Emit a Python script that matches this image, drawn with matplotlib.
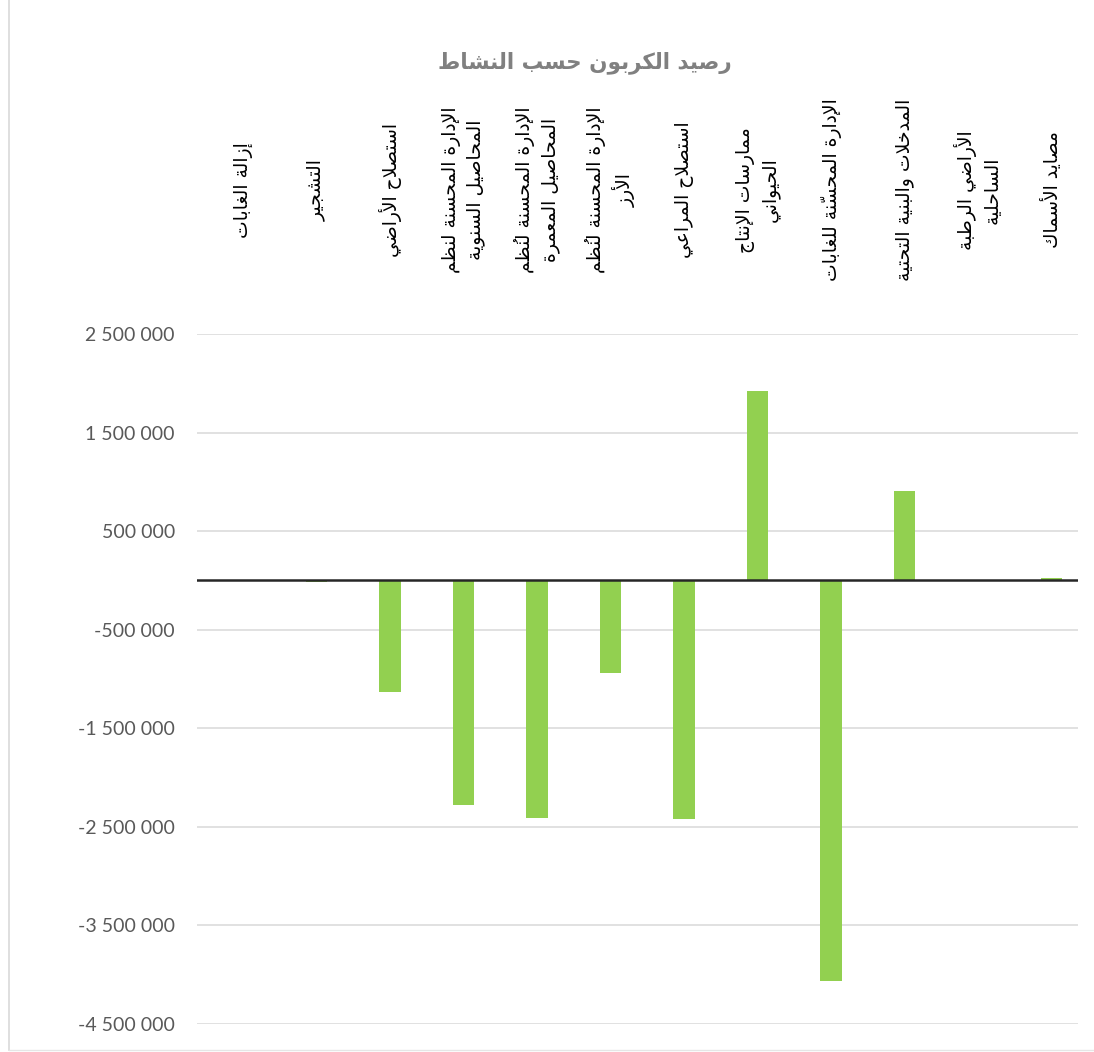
import matplotlib
matplotlib.use('Agg')
import matplotlib.pyplot as plt
import matplotlib.transforms as mtransforms
from matplotlib.lines import Line2D

# data
categories = [
    'إزالة الغابات',
    'التشجير',
    'استصلاح الأراضي',
    'الإدارة المحسنة لنظم\nالمحاصيل السنوية',
    'الإدارة المحسنة لنُظم\nالمحاصيل المعمرة',
    'الإدارة المحسنة لنُظم\nالأرز',
    'استصلاح المراعي',
    'ممارسات الإنتاج\nالحيواني',
    'الإدارة المحسّنة للغابات',
    'المدخلات والبنية التحتية',
    'الأراضي الرطبة\nالساحلية',
    'مصايد الأسماك',
]
carbon_balance = [0, -15000, -1130000, -2280000, -2410000, -940000,
                  -2420000, 1925000, -4060000, 910000, 0, 20000]
yticks = [2500000, 1500000, 500000, -500000, -1500000, -2500000, -3500000, -4500000]
title = 'رصيد الكربون حسب النشاط'

# matplotlib has no arabic shaping, so do it by hand with presentation forms
# (isolated, final, initial, medial)
FORMS = {
    '\u0621': (0xFE80,),
    '\u0622': (0xFE81, 0xFE82), '\u0623': (0xFE83, 0xFE84),
    '\u0624': (0xFE85, 0xFE86), '\u0625': (0xFE87, 0xFE88),
    '\u0626': (0xFE89, 0xFE8A, 0xFE8B, 0xFE8C),
    '\u0627': (0xFE8D, 0xFE8E),
    '\u0628': (0xFE8F, 0xFE90, 0xFE91, 0xFE92),
    '\u0629': (0xFE93, 0xFE94),
    '\u062A': (0xFE95, 0xFE96, 0xFE97, 0xFE98),
    '\u062B': (0xFE99, 0xFE9A, 0xFE9B, 0xFE9C),
    '\u062C': (0xFE9D, 0xFE9E, 0xFE9F, 0xFEA0),
    '\u062D': (0xFEA1, 0xFEA2, 0xFEA3, 0xFEA4),
    '\u062E': (0xFEA5, 0xFEA6, 0xFEA7, 0xFEA8),
    '\u062F': (0xFEA9, 0xFEAA), '\u0630': (0xFEAB, 0xFEAC),
    '\u0631': (0xFEAD, 0xFEAE), '\u0632': (0xFEAF, 0xFEB0),
    '\u0633': (0xFEB1, 0xFEB2, 0xFEB3, 0xFEB4),
    '\u0634': (0xFEB5, 0xFEB6, 0xFEB7, 0xFEB8),
    '\u0635': (0xFEB9, 0xFEBA, 0xFEBB, 0xFEBC),
    '\u0636': (0xFEBD, 0xFEBE, 0xFEBF, 0xFEC0),
    '\u0637': (0xFEC1, 0xFEC2, 0xFEC3, 0xFEC4),
    '\u0638': (0xFEC5, 0xFEC6, 0xFEC7, 0xFEC8),
    '\u0639': (0xFEC9, 0xFECA, 0xFECB, 0xFECC),
    '\u063A': (0xFECD, 0xFECE, 0xFECF, 0xFED0),
    '\u0641': (0xFED1, 0xFED2, 0xFED3, 0xFED4),
    '\u0642': (0xFED5, 0xFED6, 0xFED7, 0xFED8),
    '\u0643': (0xFED9, 0xFEDA, 0xFEDB, 0xFEDC),
    '\u0644': (0xFEDD, 0xFEDE, 0xFEDF, 0xFEE0),
    '\u0645': (0xFEE1, 0xFEE2, 0xFEE3, 0xFEE4),
    '\u0646': (0xFEE5, 0xFEE6, 0xFEE7, 0xFEE8),
    '\u0647': (0xFEE9, 0xFEEA, 0xFEEB, 0xFEEC),
    '\u0648': (0xFEED, 0xFEEE),
    '\u0649': (0xFEEF, 0xFEF0),
    '\u064A': (0xFEF1, 0xFEF2, 0xFEF3, 0xFEF4),
}
LAM_ALEF = {'\u0622': (0xFEF5, 0xFEF6), '\u0623': (0xFEF7, 0xFEF8),
            '\u0625': (0xFEF9, 0xFEFA), '\u0627': (0xFEFB, 0xFEFC)}


def is_mark(c):
    return '\u064B' <= c <= '\u0652'


def shape_line(text):
    # clusters: base letter + its marks
    clusters = []
    for c in text:
        if is_mark(c) and clusters:
            clusters[-1][1].append(c)
        else:
            clusters.append([c, []])
    # merge lam + alef
    merged = []
    i = 0
    while i < len(clusters):
        b, m = clusters[i]
        if b == '\u0644' and i + 1 < len(clusters) and clusters[i + 1][0] in LAM_ALEF:
            merged.append(['LA' + clusters[i + 1][0], m + clusters[i + 1][1]])
            i += 2
        else:
            merged.append([b, m])
            i += 1

    def dual(b):
        return b in FORMS and len(FORMS[b]) == 4

    def joins(b):
        return b.startswith('LA') or (b in FORMS and len(FORMS[b]) > 1)

    out = []
    for k, (b, m) in enumerate(merged):
        prev = merged[k - 1][0] if k > 0 else None
        nxt = merged[k + 1][0] if k + 1 < len(merged) else None
        cp = prev is not None and dual(prev) and joins(b)
        if b.startswith('LA'):
            g = chr(LAM_ALEF[b[2]][1 if cp else 0])
        elif b in FORMS:
            forms = FORMS[b]
            cn = dual(b) and nxt is not None and joins(nxt)
            if len(forms) == 1:
                idx = 0
            elif cp and cn:
                idx = 3
            elif cn:
                idx = 2
            elif cp:
                idx = 1
            else:
                idx = 0
            g = chr(forms[idx])
        else:
            g = b
        # the mark glyphs draw to the right of their pen spot, so put them first
        out.append(''.join(m) + g)
    return ''.join(reversed(out))


def shape(text):
    return '\n'.join(shape_line(s) for s in text.split('\n'))


W = 1094
H = 1052
fig = plt.figure(figsize=(W / 100, H / 100), dpi=100)
fig.patch.set_facecolor('white')

x0, x1 = 197, 1078
y_top, y_bot = 334, 1024
ax = fig.add_axes([x0 / W, 1 - y_bot / H, (x1 - x0) / W, (y_bot - y_top) / H])

xs = list(range(len(categories)))
ax.bar(xs, carbon_balance, width=0.29, color='#92D050', zorder=2)
ax.axhline(0, color='#262626', linewidth=1.8, zorder=3)

# first category centre sits ~46px right of the plot edge, spacing 73.5px
step = 73.5
ax.set_xlim((x0 - 243) / step, (x1 - 243) / step)
ax.set_ylim(-4500000, 2500000)
ax.set_yticks(yticks)
ax.set_yticklabels([f'{v:,.0f}'.replace(',', ' ') for v in yticks],
                   fontsize=14, color='#595959', family='Lato')
ax.tick_params(axis='y', length=0, pad=16)
ax.set_xticks([])
ax.grid(axis='y', color='#D9D9D9', linewidth=1.1, zorder=0)
for sp in ax.spines.values():
    sp.set_visible(False)

trans = mtransforms.blended_transform_factory(ax.transData, fig.transFigure)
for i, cat in enumerate(categories):
    ax.text(i, 1 - 190 / H, shape(cat), transform=trans, rotation=90,
            ha='center', va='center', multialignment='center',
            fontsize=13.5, color='black', family='DejaVu Sans',
            linespacing=1.35, clip_on=False)

fig.text(585 / W, 1 - 63 / H, shape(title), ha='center', va='center',
         fontsize=15.5, fontweight='bold', color='#808080', family='DejaVu Sans')

# chart frame remains
fig.add_artist(Line2D([9 / W, 9 / W], [0.002, 1], color='#D9D9D9', linewidth=1.2))
fig.add_artist(Line2D([9 / W, 1], [1 - 1050 / H, 1 - 1050 / H], color='#E6E6E6', linewidth=1.0))

plt.savefig('out.png', dpi=100)
